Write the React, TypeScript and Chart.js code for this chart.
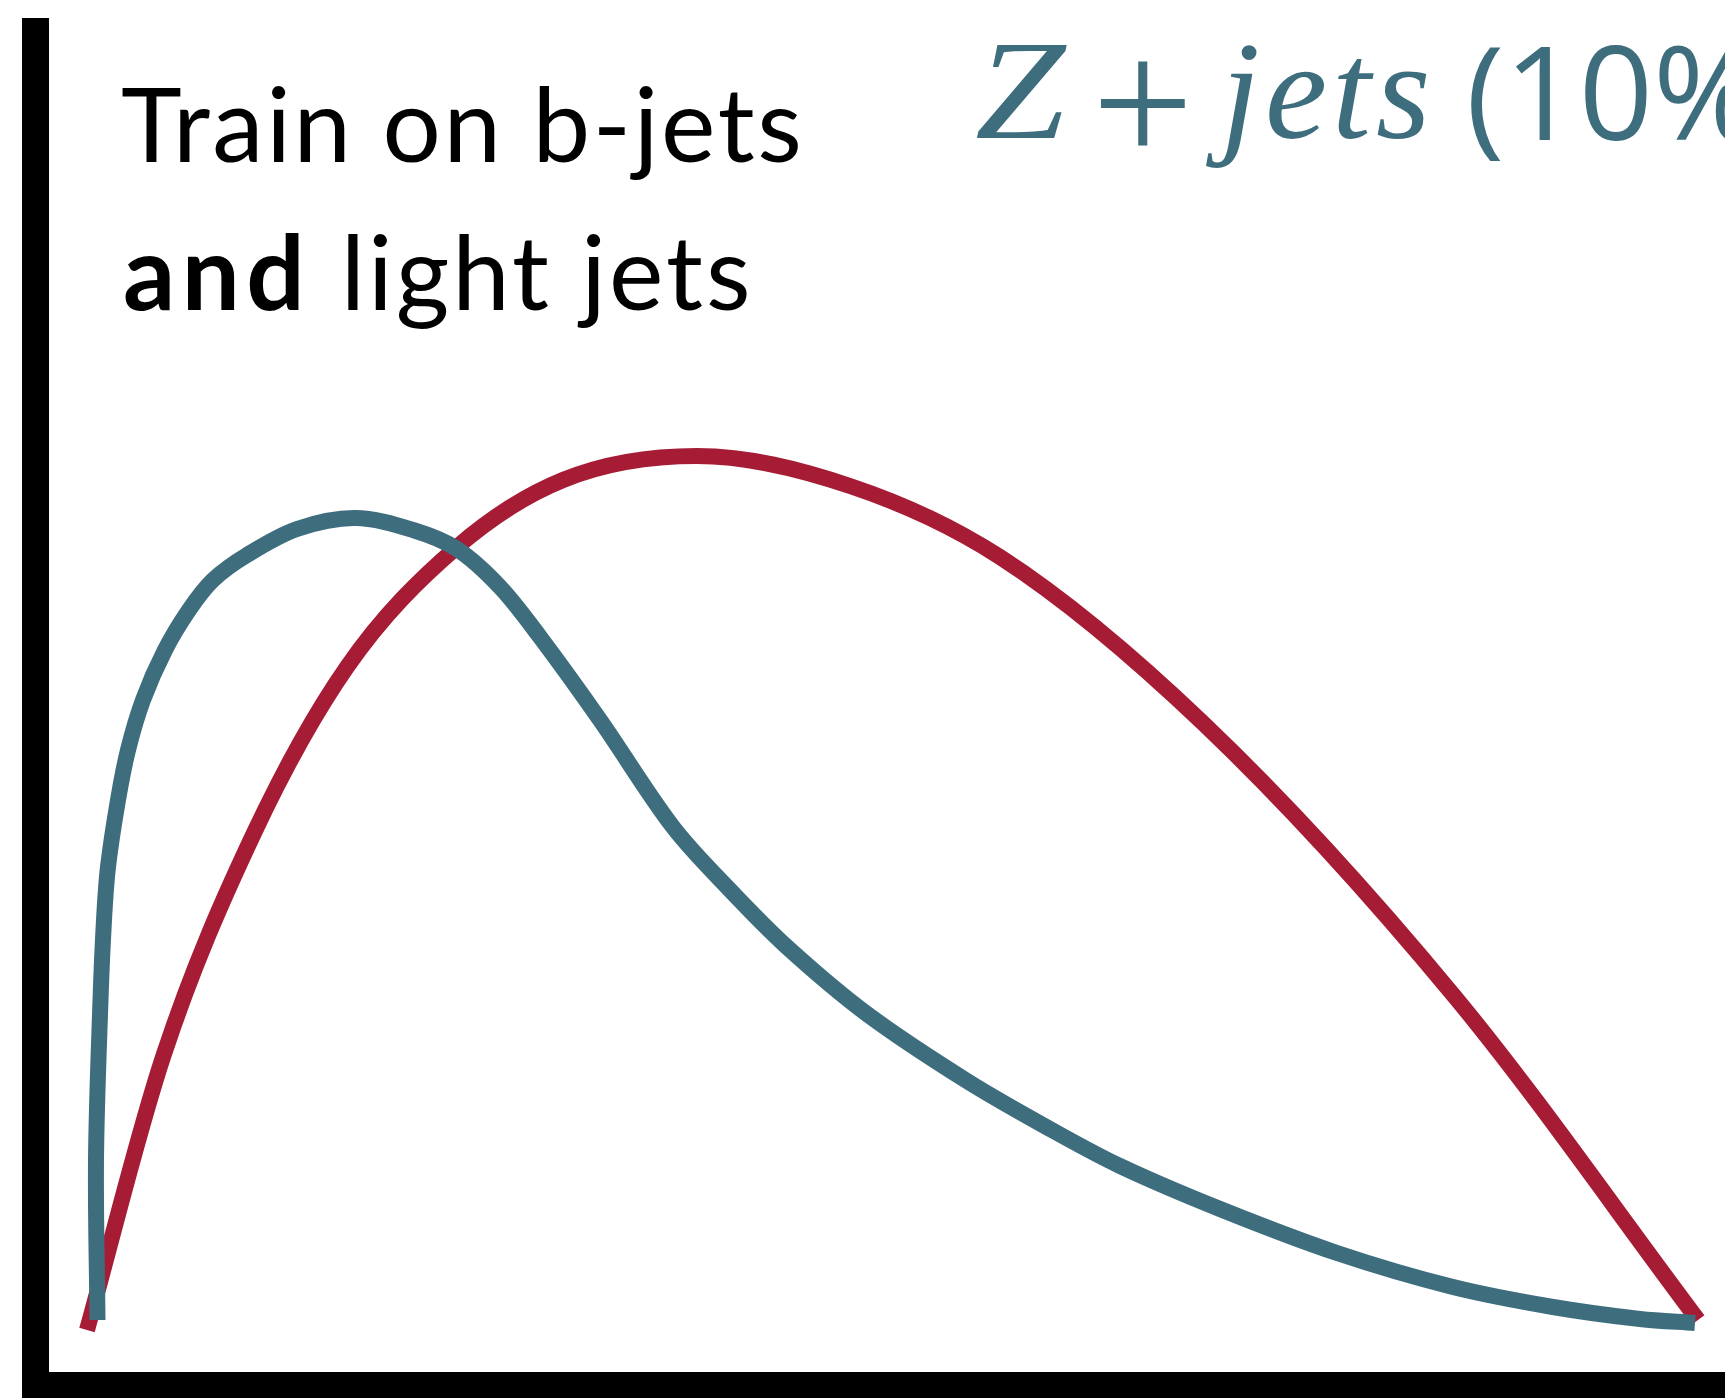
import React, { useEffect, useRef } from "react";
import { Chart, registerables } from "chart.js";

Chart.register(...registerables);

// Classifier score (x) and normalised density (y) for each sample
const zjetsScore = [
  0.02894, 0.02804, 0.03073, 0.03282, 0.0352, 0.04117, 0.04714, 0.05609, 0.06921, 0.08353,
  0.09785, 0.11814, 0.14797, 0.18258, 0.21718, 0.24344, 0.26909, 0.29296, 0.32876, 0.37232,
  0.40632, 0.44033, 0.48807, 0.54773, 0.59726, 0.63902, 0.69869, 0.7685, 0.83771, 0.89737,
  0.94928, 0.9821,
];
const zjetsDensity = [
  0.0384, 0.15657, 0.27474, 0.33383, 0.37297, 0.42245, 0.45938, 0.49631, 0.53323, 0.56278,
  0.58493, 0.6034, 0.6226, 0.63072, 0.62186, 0.60783, 0.57976, 0.54284, 0.48154, 0.40251,
  0.35598, 0.31389, 0.2644, 0.21492, 0.17947, 0.15214, 0.12038, 0.08789, 0.06278, 0.04801,
  0.03914, 0.03619,
];

const signalScore = [
  0.02267, 0.06802, 0.12232, 0.1778, 0.24344, 0.30668, 0.38663, 0.47792, 0.56742, 0.68854,
  0.8389, 0.98389,
];
const signalDensity = [
  0.03102, 0.23264, 0.39808, 0.52068, 0.60931, 0.65879, 0.67651, 0.65436, 0.60192, 0.47932,
  0.27696, 0.0384,
];

const headlineLines = ["Train on b-jets", "and", " light jets"];
const sampleLabel = { process: "Z", plus: "+", jets: "jets", fraction: "(10%)" };

const TEAL = "#3E6E7E";
const RED = "#A61C35";
const AXIS_WIDTH = 27;

const setSpacing = (ctx: any, v: string) => {
  try {
    ctx.letterSpacing = v;
  } catch (e) {}
};

const framePlugin = {
  id: "frameAndNotes",
  afterDraw(chart: any) {
    const { ctx, chartArea } = chart;
    const { left, top, bottom } = chartArea;
    ctx.save();
    // thick L-shaped axes
    ctx.fillStyle = "#000";
    ctx.fillRect(left - AXIS_WIDTH, top, AXIS_WIDTH, chart.height - top);
    ctx.fillRect(left - AXIS_WIDTH, bottom, chart.width - left + AXIS_WIDTH, chart.height - bottom);

    // headline
    ctx.textBaseline = "alphabetic";
    ctx.textAlign = "left";
    ctx.fillStyle = "#000";
    setSpacing(ctx, "2.6px");
    ctx.font = "400 103px Lato";
    ctx.fillText(headlineLines[0], 121, 162);
    ctx.font = "700 103px Lato";
    setSpacing(ctx, "6.5px");
    ctx.fillText(headlineLines[1], 123, 310);
    const w = ctx.measureText(headlineLines[1]).width;
    ctx.font = "400 103px Lato";
    setSpacing(ctx, "3px");
    ctx.fillText(headlineLines[2], 123 + w, 310);
    setSpacing(ctx, "0px");

    // sample label
    ctx.fillStyle = TEAL;
    ctx.save();
    ctx.translate(975, 138);
    ctx.scale(1.16, 1.02);
    ctx.font = 'italic 140px "Liberation Serif"';
    ctx.fillText(sampleLabel.process, 0, 0);
    ctx.restore();
    ctx.font = '180px "Liberation Serif"';
    ctx.fillText(sampleLabel.plus, 1092, 163);
    ctx.font = 'italic 140px "Liberation Serif"';
    setSpacing(ctx, "5px");
    ctx.fillText(sampleLabel.jets, 1221, 138);
    setSpacing(ctx, "0px");
    ctx.font = '400 130px "Open Sans"';
    ctx.fillText(sampleLabel.fraction, 1466, 140);
    ctx.restore();
  },
};

export default function App() {
  const canvasRef = useRef<HTMLCanvasElement | null>(null);

  useEffect(() => {
    if (!canvasRef.current) return;
    const chart = new Chart(canvasRef.current, {
      type: "line",
      data: {
        datasets: [
          {
            label: "Z + jets",
            data: zjetsScore.map((x, i) => ({ x, y: zjetsDensity[i] })),
            borderColor: TEAL,
            borderWidth: 16,
            pointRadius: 0,
            tension: 0.33,
            fill: false,
            clip: false,
          },
          {
            label: "b-jets",
            data: signalScore.map((x, i) => ({ x, y: signalDensity[i] })),
            borderColor: RED,
            borderWidth: 16,
            pointRadius: 0,
            cubicInterpolationMode: "monotone",
            fill: false,
            clip: false,
          },
        ],
      },
      options: {
        animation: false,
        responsive: false,
        devicePixelRatio: 1,
        layout: { padding: { left: 49, top: 18, right: 0, bottom: 26 } },
        scales: {
          x: { type: "linear", min: 0, max: 1, display: false },
          y: { type: "linear", min: 0, max: 1, display: false },
        },
        plugins: {
          legend: { display: false },
          tooltip: { enabled: false },
        },
      },
      plugins: [framePlugin],
    });
    return () => chart.destroy();
  }, []);

  return (
    <div style={{ position: "absolute", left: 0, top: 0, width: 1725, height: 1398, background: "#fff" }}>
      <canvas ref={canvasRef} width={1725} height={1398} style={{ width: 1725, height: 1398, display: "block" }} />
    </div>
  );
}
